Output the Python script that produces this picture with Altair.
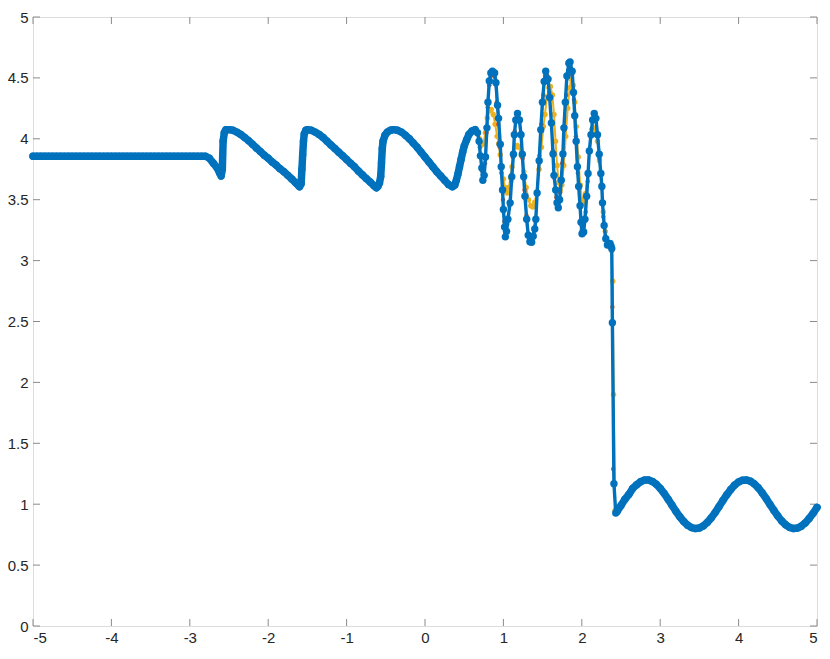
import altair as alt
import pandas as pd

# ---------------- data ----------------
FLAT_X = [-5.00, -4.95, -4.90, -4.85, -4.80, -4.75, -4.70, -4.65, -4.60, -4.55,
          -4.50, -4.45, -4.40, -4.35, -4.30, -4.25, -4.20, -4.15, -4.10, -4.05,
          -4.00, -3.95, -3.90, -3.85, -3.80, -3.75, -3.70, -3.65, -3.60, -3.55,
          -3.50, -3.45, -3.40, -3.35, -3.30, -3.25, -3.20, -3.15, -3.10, -3.05,
          -3.00, -2.95, -2.90, -2.85, -2.80]
FLAT_Y = [3.857] * len(FLAT_X)

WAVES = [(-2.75, 3.84), (-2.70, 3.80), (-2.65, 3.76), (-2.62, 3.72), (-2.60, 3.695),
         (-2.585, 3.75), (-2.575, 3.98), (-2.56, 4.05), (-2.54, 4.075), (-2.50, 4.075),
         (-2.45, 4.07), (-2.40, 4.055), (-2.35, 4.035), (-2.30, 4.01), (-2.25, 3.985),
         (-2.20, 3.955), (-2.15, 3.925), (-2.10, 3.895), (-2.05, 3.865), (-2.00, 3.84),
         (-1.95, 3.81), (-1.90, 3.785), (-1.85, 3.755), (-1.80, 3.73), (-1.75, 3.70),
         (-1.70, 3.67), (-1.65, 3.64), (-1.62, 3.62), (-1.60, 3.607), (-1.58, 3.63),
         (-1.57, 3.75), (-1.56, 3.87), (-1.55, 3.98), (-1.54, 4.04), (-1.52, 4.07),
         (-1.50, 4.075), (-1.45, 4.07), (-1.40, 4.055), (-1.35, 4.035), (-1.30, 4.01),
         (-1.25, 3.98), (-1.20, 3.95), (-1.15, 3.92), (-1.10, 3.89), (-1.05, 3.86),
         (-1.00, 3.83), (-0.95, 3.80), (-0.90, 3.77), (-0.85, 3.735), (-0.80, 3.705),
         (-0.75, 3.675), (-0.70, 3.645), (-0.65, 3.615), (-0.62, 3.598), (-0.60, 3.61),
         (-0.58, 3.64), (-0.565, 3.69), (-0.555, 3.80), (-0.545, 3.92), (-0.535, 3.98),
         (-0.51, 4.03), (-0.48, 4.055), (-0.44, 4.07), (-0.40, 4.075), (-0.35, 4.07),
         (-0.30, 4.055), (-0.25, 4.03), (-0.20, 4.00), (-0.15, 3.965), (-0.10, 3.93),
         (-0.05, 3.89), (0.00, 3.85), (0.05, 3.81), (0.10, 3.77), (0.15, 3.73),
         (0.20, 3.695), (0.25, 3.66), (0.30, 3.625), (0.35, 3.607), (0.38, 3.62),
         (0.40, 3.66), (0.42, 3.71), (0.44, 3.77), (0.46, 3.83), (0.48, 3.89),
         (0.50, 3.94), (0.53, 3.99), (0.56, 4.035), (0.60, 4.065), (0.64, 4.075)]

OSC_BLUE = [(0.67, 4.05), (0.69, 3.98), (0.707, 3.86), (0.725, 3.76), (0.738, 3.66),
            (0.755, 3.70), (0.772, 3.85), (0.79, 4.09), (0.803, 4.30), (0.82, 4.475),
            (0.84, 4.54), (0.86, 4.555), (0.888, 4.54), (0.905, 4.46), (0.925, 4.275),
            (0.938, 4.168), (0.96, 3.955), (0.972, 3.77), (0.989, 3.58), (1.00, 3.42),
            (1.015, 3.275), (1.025, 3.195), (1.04, 3.24), (1.057, 3.34), (1.086, 3.474),
            (1.107, 3.688), (1.128, 3.874), (1.14, 4.034), (1.158, 4.154), (1.18, 4.208),
            (1.204, 4.154), (1.225, 4.034), (1.241, 3.874), (1.259, 3.688), (1.275, 3.528),
            (1.297, 3.34), (1.317, 3.208), (1.338, 3.155), (1.36, 3.15), (1.38, 3.20),
            (1.40, 3.26), (1.414, 3.34), (1.43, 3.555), (1.456, 3.82), (1.477, 4.075),
            (1.498, 4.30), (1.52, 4.47), (1.54, 4.555), (1.57, 4.49), (1.59, 4.34),
            (1.612, 4.13), (1.633, 3.875), (1.645, 3.70), (1.667, 3.58), (1.684, 3.475),
            (1.70, 3.434), (1.717, 3.50), (1.738, 3.66), (1.759, 3.875), (1.772, 4.09),
            (1.79, 4.30), (1.81, 4.515), (1.835, 4.62), (1.85, 4.63), (1.877, 4.555),
            (1.894, 4.38), (1.91, 4.19), (1.928, 3.98), (1.944, 3.77), (1.96, 3.608),
            (1.978, 3.45), (1.99, 3.315), (2.003, 3.22), (2.024, 3.235), (2.04, 3.34),
            (2.062, 3.528), (2.08, 3.715), (2.096, 3.90), (2.117, 4.034), (2.138, 4.154),
            (2.159, 4.208), (2.18, 4.168), (2.20, 4.034), (2.222, 3.874), (2.243, 3.715),
            (2.256, 3.608), (2.264, 3.474), (2.285, 3.288), (2.306, 3.18), (2.327, 3.128),
            (2.345, 3.13), (2.36, 3.14), (2.372, 3.12), (2.382, 3.10), (2.39, 2.49),
            (2.41, 1.168), (2.433, 0.928)]

OSC_RED = [(0.67, 4.05), (0.70, 3.93), (0.725, 3.74), (0.745, 3.68), (0.765, 3.80),
           (0.785, 4.05), (0.80, 4.26), (0.82, 4.44), (0.845, 4.52), (0.87, 4.52),
           (0.895, 4.46), (0.915, 4.30), (0.935, 4.12), (0.955, 3.93), (0.975, 3.72),
           (0.995, 3.50), (1.012, 3.32), (1.03, 3.22), (1.05, 3.30), (1.075, 3.45),
           (1.10, 3.65), (1.12, 3.85), (1.145, 4.06), (1.17, 4.18), (1.195, 4.17),
           (1.22, 4.05), (1.245, 3.84), (1.27, 3.58), (1.295, 3.37), (1.32, 3.22),
           (1.345, 3.17), (1.375, 3.20), (1.405, 3.33), (1.43, 3.56), (1.46, 3.86),
           (1.485, 4.12), (1.51, 4.36), (1.535, 4.52), (1.56, 4.52), (1.585, 4.38),
           (1.61, 4.14), (1.63, 3.90), (1.65, 3.68), (1.675, 3.52), (1.70, 3.45),
           (1.725, 3.56), (1.75, 3.80), (1.775, 4.07), (1.80, 4.36), (1.825, 4.56),
           (1.85, 4.60), (1.875, 4.53), (1.90, 4.32), (1.925, 4.02), (1.95, 3.72),
           (1.975, 3.46), (2.00, 3.25), (2.025, 3.24), (2.05, 3.40), (2.075, 3.65),
           (2.10, 3.90), (2.125, 4.08), (2.15, 4.18), (2.175, 4.16), (2.20, 4.03),
           (2.225, 3.84), (2.25, 3.62), (2.275, 3.36), (2.30, 3.20), (2.33, 3.13),
           (2.36, 3.14), (2.385, 3.10), (2.39, 2.62), (2.40, 1.29), (2.43, 0.93)]

OSC_YELLOW = [(0.67, 4.05), (0.695, 4.00), (0.72, 3.95), (0.745, 3.96), (0.77, 4.05),
              (0.795, 4.17), (0.82, 4.23), (0.845, 4.24), (0.87, 4.20), (0.895, 4.12),
              (0.92, 4.02), (0.94, 3.96), (0.96, 3.87), (0.98, 3.77), (1.00, 3.67),
              (1.02, 3.60), (1.045, 3.555), (1.07, 3.60), (1.09, 3.68), (1.11, 3.77),
              (1.13, 3.86), (1.15, 3.93), (1.175, 3.945), (1.20, 3.93), (1.23, 3.86),
              (1.26, 3.73), (1.29, 3.60), (1.32, 3.50), (1.35, 3.45), (1.375, 3.44),
              (1.40, 3.48), (1.425, 3.56), (1.455, 3.75), (1.485, 3.93), (1.51, 4.10),
              (1.53, 4.20), (1.555, 4.34), (1.58, 4.42), (1.60, 4.43), (1.625, 4.36),
              (1.645, 4.20), (1.665, 3.98), (1.685, 3.78), (1.705, 3.64), (1.725, 3.58),
              (1.745, 3.62), (1.77, 3.78), (1.795, 4.02), (1.82, 4.25), (1.845, 4.42),
              (1.865, 4.49), (1.89, 4.44), (1.91, 4.30), (1.93, 4.10), (1.955, 3.85),
              (1.98, 3.62), (2.005, 3.50), (2.025, 3.47), (2.05, 3.55), (2.075, 3.72),
              (2.10, 3.90), (2.125, 4.03), (2.15, 4.09), (2.175, 4.07), (2.20, 3.98),
              (2.225, 3.82), (2.25, 3.62), (2.275, 3.40), (2.30, 3.24), (2.33, 3.13),
              (2.36, 3.12), (2.38, 3.08), (2.395, 2.83), (2.405, 1.90), (2.425, 0.95)]

RIGHT_X = [2.45, 2.50, 2.55, 2.60, 2.65, 2.70, 2.75, 2.80, 2.85, 2.90, 2.95,
           3.00, 3.05, 3.10, 3.15, 3.20, 3.25, 3.30, 3.35, 3.40, 3.45, 3.50,
           3.55, 3.60, 3.65, 3.70, 3.75, 3.80, 3.85, 3.90, 3.95, 4.00, 4.05,
           4.10, 4.15, 4.20, 4.25, 4.30, 4.35, 4.40, 4.45, 4.50, 4.55, 4.60,
           4.65, 4.70, 4.75, 4.80, 4.85, 4.90, 4.95, 5.00]
RIGHT_Y = [0.94, 0.99, 1.04, 1.08, 1.13, 1.16, 1.185, 1.198, 1.199, 1.187, 1.164,
           1.13, 1.089, 1.041, 0.992, 0.942, 0.897, 0.858, 0.827, 0.808, 0.80, 0.805,
           0.822, 0.85, 0.887, 0.931, 0.98, 1.03, 1.078, 1.121, 1.157, 1.183, 1.197,
           1.199, 1.189, 1.167, 1.135, 1.094, 1.048, 0.998, 0.949, 0.903, 0.862, 0.831,
           0.81, 0.80, 0.804, 0.819, 0.846, 0.882, 0.925, 0.974]

X_TICKS = [-5, -4, -3, -2, -1, 0, 1, 2, 3, 4, 5]
Y_TICKS = [0, 0.5, 1, 1.5, 2, 2.5, 3, 3.5, 4, 4.5, 5]

BLUE = "#0072BD"
RED = "#D95319"
YELLOW = "#EDB120"
AXIS_GRAY = "#8a8a8a"
TEXT = "#262626"


def build(osc):
    xs = FLAT_X + [p[0] for p in WAVES] + [p[0] for p in osc] + RIGHT_X
    ys = FLAT_Y + [p[1] for p in WAVES] + [p[1] for p in osc] + RIGHT_Y
    return pd.DataFrame({"x": xs, "y": ys, "i": list(range(len(xs)))})


# smooth parts of the blue curve (drawn as a dense marker band)
band_left = pd.DataFrame({
    "x": FLAT_X + [p[0] for p in WAVES],
    "y": FLAT_Y + [p[1] for p in WAVES],
    "seg": "left",
})
band_right = pd.DataFrame({"x": RIGHT_X, "y": RIGHT_Y, "seg": "right"})
band = pd.concat([band_left, band_right], ignore_index=True)
band["i"] = range(len(band))

W, H = 784, 609
PAD = {"left": 25, "top": 9, "right": 5, "bottom": 21}

xscale = alt.Scale(domain=[-5, 5], nice=False, zero=False)
yscale = alt.Scale(domain=[0, 5], nice=False, zero=False)

xaxis = alt.Axis(values=X_TICKS, labelExpr="'' + datum.value", ticks=False, domain=False,
                 grid=False, title=None, labelFontSize=15, labelColor=TEXT,
                 labelFont="Liberation Sans", labelPadding=4)
yaxis = alt.Axis(values=Y_TICKS, labelExpr="'' + datum.value", ticks=False, domain=False,
                 grid=False, title=None, labelFontSize=15, labelColor=TEXT,
                 labelFont="Liberation Sans", labelPadding=5)


def series(df, color, lw, size):
    base = alt.Chart(df).encode(
        x=alt.X("x:Q", scale=xscale, axis=xaxis),
        y=alt.Y("y:Q", scale=yscale, axis=yaxis),
        order="i:Q",
    )
    line = base.mark_line(color=color, strokeWidth=lw, strokeJoin="round")
    pts = base.mark_circle(color=color, size=size, opacity=1)
    return line + pts


yellow = series(build(OSC_YELLOW), YELLOW, 2, 30)
red = series(build(OSC_RED), RED, 1.5, 20)
blue = series(build(OSC_BLUE), BLUE, 3.4, 55)

blue_band = alt.Chart(band).mark_line(
    color=BLUE, strokeWidth=7.5, strokeCap="round", strokeJoin="round"
).encode(
    x=alt.X("x:Q", scale=xscale, axis=xaxis),
    y=alt.Y("y:Q", scale=yscale, axis=yaxis),
    detail="seg:N",
    order="i:Q",
)

xt = pd.DataFrame({"t": X_TICKS})
yt = pd.DataFrame({"t": Y_TICKS})
TL = 7
tick_bottom = alt.Chart(xt).mark_rule(color=AXIS_GRAY, strokeWidth=1).encode(
    x=alt.X("t:Q", scale=xscale, axis=xaxis), y=alt.value(H), y2=alt.value(H - TL))
tick_top = alt.Chart(xt).mark_rule(color=AXIS_GRAY, strokeWidth=1).encode(
    x=alt.X("t:Q", scale=xscale, axis=xaxis), y=alt.value(0), y2=alt.value(TL))
tick_left = alt.Chart(yt).mark_rule(color=AXIS_GRAY, strokeWidth=1).encode(
    y=alt.Y("t:Q", scale=yscale, axis=yaxis), x=alt.value(0), x2=alt.value(TL))
tick_right = alt.Chart(yt).mark_rule(color=AXIS_GRAY, strokeWidth=1).encode(
    y=alt.Y("t:Q", scale=yscale, axis=yaxis), x=alt.value(W), x2=alt.value(W - TL))

chart = alt.layer(
    tick_bottom, tick_top, tick_left, tick_right, yellow, red, blue_band, blue
).properties(
    width=W, height=H, padding=PAD,
    autosize=alt.AutoSizeParams(type="none"),
).configure_view(
    stroke=AXIS_GRAY, strokeWidth=1
).configure(background="white")

chart.save("out.html", embed_options={"renderer": "svg", "actions": False})
